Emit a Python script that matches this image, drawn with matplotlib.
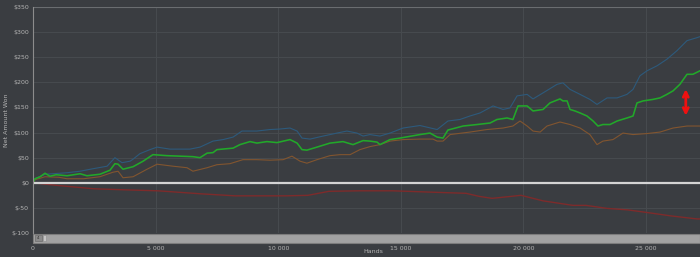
import matplotlib
matplotlib.use("Agg")
from matplotlib import pyplot as plt
from matplotlib.patches import Rectangle
from matplotlib.ticker import FuncFormatter

# values (hands, net amount won in $)
green_hands = [0, 80, 290, 490, 690, 940, 1390, 1920, 2200, 2730, 3140, 3340, 3470, 3670, 4080, 4490,
               4890, 5460, 5990, 6520, 6810, 7100, 7340, 7500, 8160, 8440, 8850, 9130, 9540, 9950,
               10480, 10770, 10970, 11170, 11580, 12110, 12640, 13050, 13460, 13740, 14030, 14150,
               14560, 14970, 15780, 16190, 16480, 16720, 16920, 17540, 18110, 18640, 18920, 19330,
               19570, 19780, 20150, 20390, 20800, 21080, 21490, 21610, 21780, 21900, 22100, 22310,
               22590, 22840, 23040, 23240, 23530, 23820, 24220, 24470, 24630, 24880, 25280, 25570,
               25850, 26100, 26380, 26670, 26910, 27200]
green_won = [0, 8, 12, 19, 13, 16, 14, 18, 14, 17, 25, 38, 37, 27, 32, 43,
             56, 54, 53, 52, 50, 59, 60, 66, 69, 76, 82, 79, 82, 80,
             86, 79, 66, 65, 71, 79, 82, 76, 84, 83, 81, 76,
             86, 89, 96, 99, 91, 89, 105, 113, 116, 119, 126, 129,
             126, 153, 153, 143, 146, 159, 167, 163, 163, 146, 143, 139,
             133, 123, 113, 116, 116, 123, 129, 133, 159, 163, 166, 169,
             176, 183, 196, 216, 216, 223]

blue_hands = [0, 80, 490, 1390, 1920, 2450, 3020, 3340, 3630, 3960, 4080, 4360, 4770, 5060, 5590,
              5990, 6400, 6810, 7340, 7750, 8160, 8520, 9130, 9660, 10070, 10480, 10770, 10970,
              11300, 11830, 12400, 12800, 13210, 13460, 13740, 14150, 14560, 15090, 15780, 16480,
              16920, 17410, 17820, 18230, 18760, 19170, 19450, 19740, 20150, 20390, 20800, 21370,
              21610, 21900, 22310, 22710, 23000, 23410, 23820, 24220, 24470, 24750, 25040, 25450,
              25850, 26260, 26670, 27080, 27200]
blue_won = [0, 8, 17, 20, 23, 28, 33, 50, 40, 43, 47, 58, 66, 71, 67,
            67, 67, 71, 83, 86, 91, 103, 103, 106, 107, 109, 103, 89,
            87, 93, 99, 103, 99, 93, 96, 93, 99, 109, 114, 106,
            123, 126, 133, 139, 153, 146, 149, 173, 176, 167, 179, 196,
            199, 186, 176, 166, 156, 169, 169, 176, 186, 213, 223, 233,
            246, 263, 283, 289, 291]

brown_hands = [0, 80, 490, 1050, 1390, 2060, 2730, 3260, 3470, 3670, 4080, 4650, 5060, 5710, 6280,
               6520, 7100, 7500, 8030, 8560, 9130, 9660, 10200, 10560, 10890, 11170, 11580, 12110,
               12520, 12930, 13330, 13740, 14150, 14560, 15090, 15780, 16310, 16480, 16720, 17010,
               17820, 18510, 19170, 19570, 19860, 20150, 20390, 20680, 20960, 21490, 21900, 22310,
               22710, 23000, 23240, 23650, 24060, 24470, 25040, 25570, 26100, 26670, 27200]
brown_won = [0, 6, 12, 11, 8, 8, 12, 21, 23, 10, 12, 27, 37, 33, 30,
             23, 30, 36, 38, 46, 46, 45, 46, 53, 43, 39, 46, 54,
             56, 56, 66, 72, 76, 83, 86, 87, 87, 83, 83, 96,
             101, 106, 109, 113, 123, 113, 103, 101, 113, 121, 116, 109,
             96, 76, 83, 86, 99, 96, 98, 101, 109, 113, 113]

red_hands = [0, 940, 2490, 3710, 5100, 6850, 8240, 10320, 11210, 12070, 13290, 14680, 16430,
             17660, 18190, 18720, 19900, 20800, 22020, 22550, 23410, 24260, 25160, 26020, 27080, 27200]
red_won = [0, -5, -12, -14, -16, -22, -26, -26, -25, -17, -16, -16, -19,
           -21, -27, -31, -25, -36, -45, -45, -51, -54, -60, -66, -72, -72]

x_ticks = [0, 5000, 10000, 15000, 20000, 25000]
y_ticks = [-100, -50, 0, 50, 100, 150, 200, 250, 300, 350]

BG = '#3a3d41'
GRID = '#474b4f'
TXT = '#b4b4b4'

fig = plt.figure(figsize=(7, 2.57), dpi=100, facecolor=BG)
ax = fig.add_axes([33 / 700, 1 - 233 / 257, 1 - 33 / 700, 226 / 257])
ax.set_facecolor(BG)

ax.plot(blue_hands, blue_won, color='#2d5a7c', lw=0.8)
ax.plot(brown_hands, brown_won, color='#82552f', lw=0.8)
ax.plot(red_hands, red_won, color='#7e2b2b', lw=1.0)
ax.plot(green_hands, green_won, color='#22a82a', lw=1.15)
ax.axhline(0, color='#d4d4d4', lw=1.6)

# red double arrow on the right
ax.annotate('', xy=(26620, 192), xytext=(26620, 128),
            arrowprops=dict(arrowstyle='<->', color='#ee1111', lw=2.0, mutation_scale=9))

ax.set_xlim(0, 27200)
ax.set_ylim(-100, 350)
ax.set_xticks(x_ticks)
ax.set_yticks(y_ticks)
ax.xaxis.set_major_formatter(FuncFormatter(lambda v, p: f'{int(v):,}'.replace(',', ' ')))
ax.yaxis.set_major_formatter(FuncFormatter(lambda v, p: f'${int(v)}'))
ax.grid(True, color=GRID, lw=0.7)
ax.set_axisbelow(True)
ax.tick_params(colors=TXT, labelsize=4.5, length=0)
ax.tick_params(axis='x', pad=9)
ax.tick_params(axis='y', pad=3)
for s in ['top', 'right', 'bottom']:
    ax.spines[s].set_visible(False)
ax.spines['left'].set_color('#8c8c8c')
ax.spines['left'].set_linewidth(0.8)
ax.axhline(350, color='#6a6d70', lw=0.8)

ax.set_ylabel('Net Amount Won', color=TXT, fontsize=4.5)
ax.yaxis.set_label_coords(-24 / 667, 0.5)
ax.set_xlabel('Hands', color=TXT, fontsize=4.5)
ax.xaxis.set_label_coords(0.51, -16 / 226)

# scrollbar under the plot
fig.patches.append(Rectangle((33 / 700, 1 - 243 / 257), 1 - 33 / 700, 9 / 257, transform=fig.transFigure,
                             facecolor='#a2a2a2', edgecolor='#7c7c7c', lw=0.8))
fig.patches.append(Rectangle((35 / 700, 1 - 241 / 257), 7 / 700, 6 / 257, transform=fig.transFigure,
                             facecolor='#8a8a8a', edgecolor='#6c6c6c', lw=0.5))
fig.patches.append(Rectangle((43 / 700, 1 - 241 / 257), 3 / 700, 6 / 257, transform=fig.transFigure,
                             facecolor='#c4c4c4', edgecolor='#8c8c8c', lw=0.4))
fig.text(38.5 / 700, 1 - 238 / 257, '4', fontsize=3, color='#333333', ha='center', va='center')

fig.savefig('out.png', dpi=100, facecolor=BG)
